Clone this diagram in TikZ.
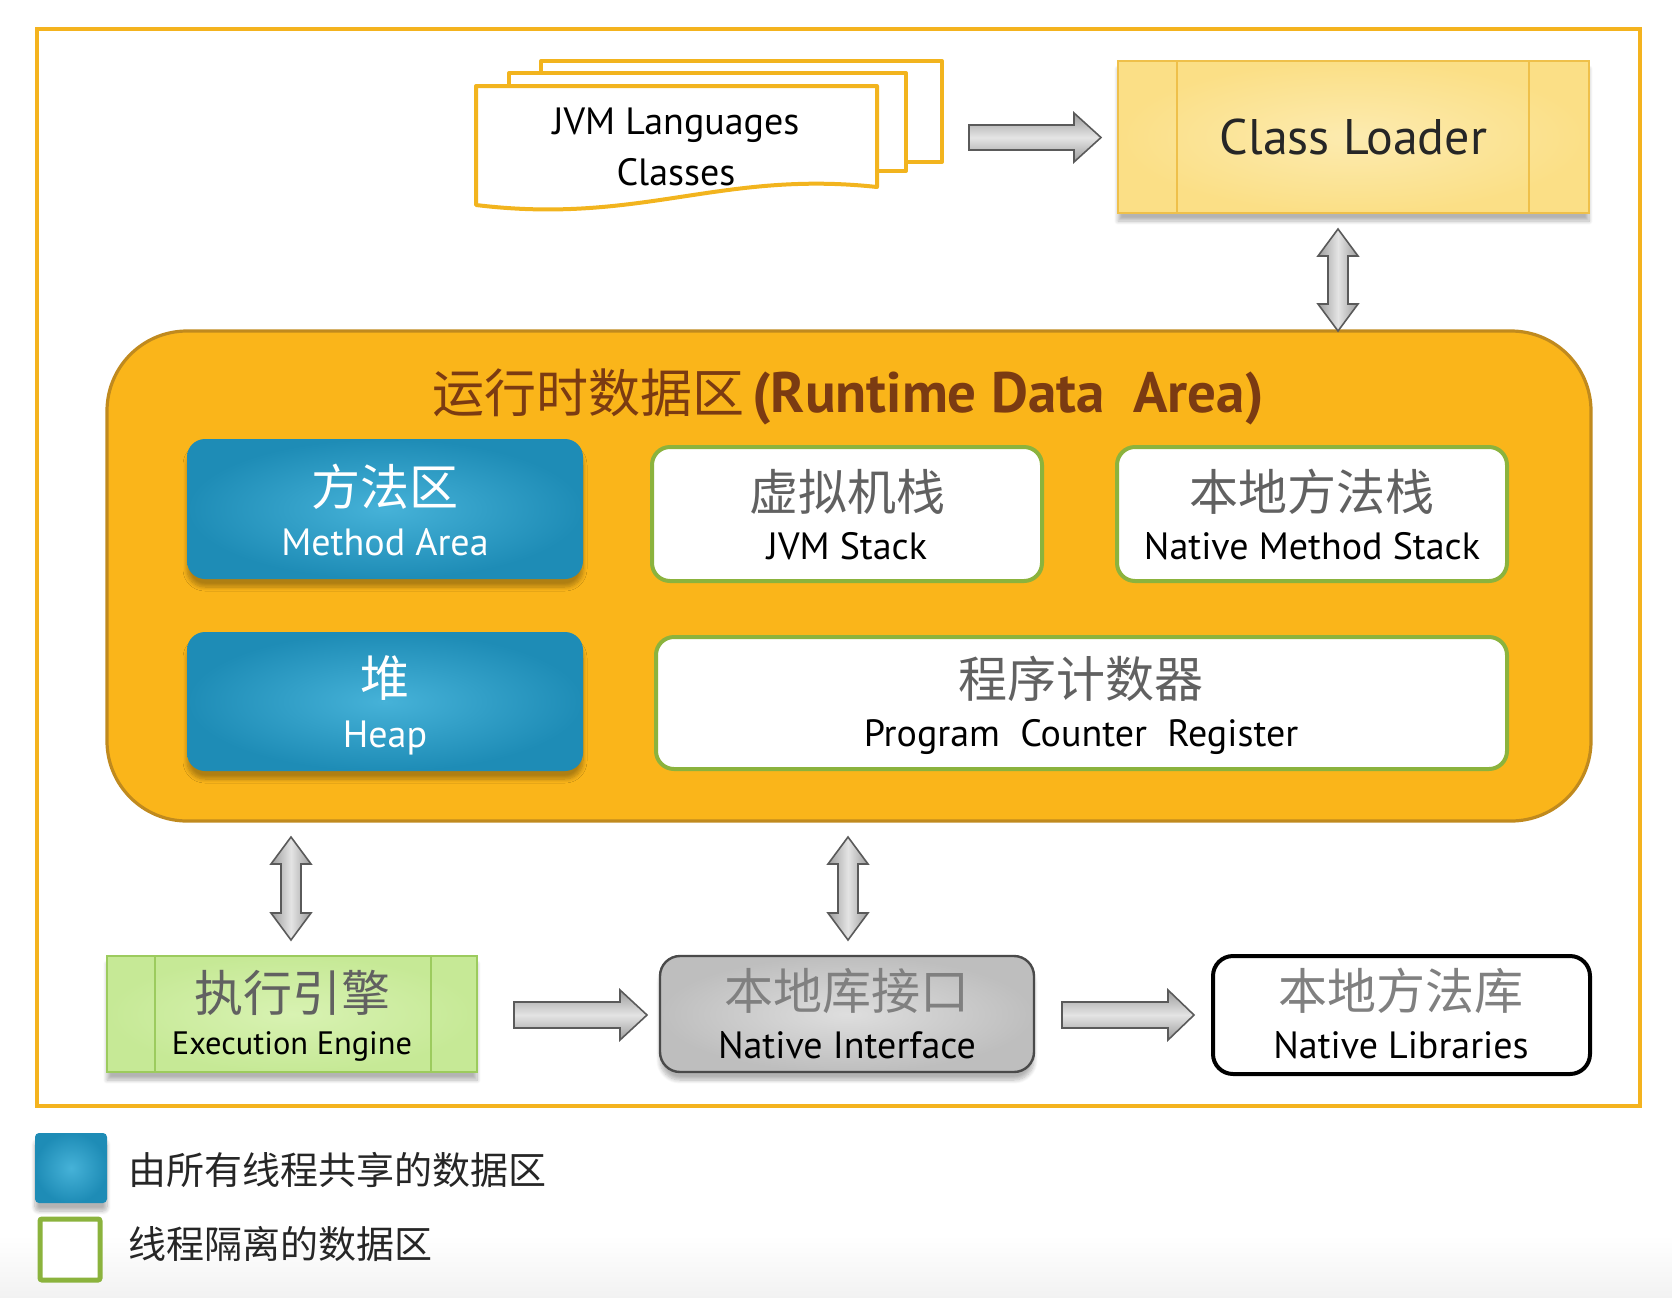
\documentclass[tikz,border=0pt]{standalone}
\usepackage{fontspec}
\setmainfont{PT Sans}
\newfontfamily\cjk{Noto Sans CJK SC}
\usetikzlibrary{shadows,shadows.blur,fit,calc}
\definecolor{frameor}{HTML}{F4B31E}
\definecolor{docor}{HTML}{F2B41E}
\definecolor{clfill}{HTML}{FBDF86}
\definecolor{clinner}{HTML}{FCEBB0}
\definecolor{clborder}{HTML}{EFC04A}
\definecolor{rdafill}{HTML}{FAB51A}
\definecolor{rdaborder}{HTML}{C08A1E}
\definecolor{titlebrown}{HTML}{7B3B12}
\definecolor{blueout}{HTML}{1E8CB6}
\definecolor{bluein}{HTML}{46B2D8}
\definecolor{greenb}{HTML}{8BB33D}
\definecolor{eefill}{HTML}{C6E996}
\definecolor{eeinner}{HTML}{D8F2B2}
\definecolor{eeborder}{HTML}{9CCB5E}
\definecolor{nifill}{HTML}{BEBEBE}
\definecolor{niinner}{HTML}{DEDEDE}
\definecolor{niborder}{HTML}{4A4A4A}
\definecolor{arrowedge}{HTML}{5A5A5A}
\definecolor{arrowdark}{HTML}{9C9C9C}
\definecolor{arrowlight}{HTML}{E4E4E4}
\begin{document}
\begin{tikzpicture}[x=0.5pt,y=-0.5pt,
  boxfit/.style={inner sep=0pt},
  softshadow/.style={blur shadow={shadow blur steps=8, shadow xshift=0pt, shadow yshift=-4pt, shadow opacity=30}},
  outerframe/.style={boxfit, draw=frameor, line width=2pt},
  docshape/.style={draw=docor, fill=white, line width=2pt, line join=round},
  clbox/.style={boxfit, draw=clborder, line width=1pt, inner color=clinner, outer color=clfill, softshadow},
  cllines/.style={draw=clborder, line width=0.8pt},
  rdabox/.style={boxfit, draw=rdaborder, line width=1.6pt, fill=rdafill, rounded corners=40pt},
  bluebox/.style={boxfit, inner color=bluein, outer color=blueout, rounded corners=9pt, softshadow},
  whitebox/.style={boxfit, draw=greenb, line width=2pt, fill=white, rounded corners=9pt},
  eebox/.style={boxfit, draw=eeborder, line width=1pt, inner color=eeinner, outer color=eefill, softshadow},
  nibox/.style={boxfit, draw=niborder, line width=1.2pt, inner color=niinner, outer color=nifill, rounded corners=10pt, softshadow},
  nlbox/.style={boxfit, draw=black, line width=2pt, fill=white, rounded corners=10pt},
  harrow/.style={draw=arrowedge, line width=0.8pt, line join=miter, top color=arrowdark, bottom color=arrowdark, middle color=arrowlight},
  varrow/.style={draw=arrowedge, line width=0.8pt, line join=miter, left color=arrowdark, right color=arrowdark, middle color=arrowlight},
  cntext/.style={inner sep=0pt, font=\cjk\fontsize{24.5}{28}\selectfont, text=black!62},
  entext/.style={inner sep=0pt, font=\fontsize{19}{22}\selectfont, text=black},
  legtext/.style={inner sep=0pt, anchor=west, font=\cjk\fontsize{19}{22}\selectfont, text=black!85}
]
\useasboundingbox (0,0) rectangle (1672,1297);
% faint bottom band of the screenshot
\path[top color=white, bottom color=gray!10] (0,1235) rectangle (1672,1297);

% outer frame
\node[outerframe, fit={(37,29)(1640,1106)}] (frame) {};

% JVM language classes (stacked documents)
\path[docshape] (541,61) rectangle (942,162);
\path[docshape] (509,73) rectangle (906,171);
\path[docshape] (476,86) -- (877,86) -- (877,187) .. controls (720,170) and (640,225) .. (476,205) -- cycle;
\node[entext, font=\fontsize{19}{22}\selectfont] (jvml) at (676,125) {JVM Languages};
\node[entext, font=\fontsize{19}{22}\selectfont] (jvmc) at (676,172) {Classes};

% Class Loader
\node[clbox, fit={(1118,61)(1589,213)}] (cl) {};
\draw[cllines] (1177,61) -- (1177,213);
\draw[cllines] (1529,61) -- (1529,213);
\node[inner sep=0pt, font=\fontsize{25}{28}\selectfont, text=black!85] (cltext) at (cl.center) {Class Loader};

% arrow classes -> class loader
\path[harrow] (969,125) -- (1074,125) -- (1074,113) -- (1101,137.5) -- (1074,162) -- (1074,150) -- (969,150) -- cycle;

% Runtime data area
\node[rdabox, fit={(107,331)(1591,821)}] (rda) {};
\node[inner sep=0pt, text=titlebrown] (title) at (848,397)
  {{\cjk\fontsize{26}{30}\selectfont 运行时数据区}\hspace{4pt}{\fontsize{28.5}{32}\selectfont\bfseries (Runtime Data\ \ Area)}};

% double arrow class loader <-> runtime area
\path[varrow] (1338,229) -- (1358,256) -- (1348,256) -- (1348,304) -- (1358,304) -- (1338,331) -- (1318,304) -- (1328,304) -- (1328,256) -- (1318,256) -- cycle;

% Method Area
\node[bluebox, fit={(187,439)(583,579)}] (ma) {};
\node[cntext, text=white] (macn) at (385,487) {方法区};
\node[entext, text=white] (maen) at (385,542) {Method Area};

% JVM Stack
\node[whitebox, fit={(652,447)(1042,581)}] (js) {};
\node[cntext] (jscn) at (847,492) {虚拟机栈};
\node[entext] (jsen) at (847,546) {JVM Stack};

% Native Method Stack
\node[whitebox, fit={(1117,447)(1507,581)}] (nms) {};
\node[cntext] (nmscn) at (1312,492) {本地方法栈};
\node[entext] (nmsen) at (1312,546) {Native Method Stack};

% Heap
\node[bluebox, fit={(187,632)(583,771)}] (heap) {};
\node[cntext, text=white] (heapcn) at (385,678) {堆};
\node[entext, text=white] (heapen) at (385,738) {Heap};

% Program Counter Register
\node[whitebox, fit={(656,637)(1507,769)}] (pcr) {};
\node[cntext] (pcrcn) at (1081,679) {程序计数器};
\node[entext] (pcren) at (1081,737) {Program\ \ Counter\ \ Register};

% vertical double arrows
\path[varrow] (291,837) -- (311,864) -- (301,864) -- (301,913) -- (311,913) -- (291,940) -- (271,913) -- (281,913) -- (281,864) -- (271,864) -- cycle;
\path[varrow] (848,837) -- (868,864) -- (858,864) -- (858,913) -- (868,913) -- (848,940) -- (828,913) -- (838,913) -- (838,864) -- (828,864) -- cycle;

% Execution Engine
\node[eebox, fit={(107,956)(477,1072)}] (ee) {};
\draw[draw=eeborder, line width=0.8pt] (155,956) -- (155,1072);
\draw[draw=eeborder, line width=0.8pt] (431,956) -- (431,1072);
\node[cntext] (eecn) at (292,993) {执行引擎};
\node[entext, font=\fontsize{16.2}{20}\selectfont] (eeen) at (292,1046) {Execution Engine};

% Native Interface
\node[nibox, fit={(660,956)(1034,1072)}] (ni) {};
\node[cntext, text=black!50] (nicn) at (847,991) {本地库接口};
\node[entext] (nien) at (847,1045) {Native Interface};

% Native Libraries
\node[nlbox, fit={(1213,956)(1590,1074)}] (nl) {};
\node[cntext, text=black!50] (nlcn) at (1401,991) {本地方法库};
\node[entext] (nlen) at (1401,1045) {Native Libraries};

% horizontal arrows
\path[harrow] (514,1002) -- (620,1002) -- (620,990) -- (647,1015) -- (620,1040) -- (620,1028) -- (514,1028) -- cycle;
\path[harrow] (1062,1002) -- (1168,1002) -- (1168,990) -- (1194,1015) -- (1168,1040) -- (1168,1028) -- (1062,1028) -- cycle;

% legend
\node[boxfit, inner color=bluein, outer color=blueout, rounded corners=2pt, softshadow, fit={(35,1133)(107,1203)}] (legblue) {};
\node[boxfit, draw=greenb, line width=2.5pt, fill=white, rounded corners=1pt, fit={(40,1219)(100,1280)}] (leggreen) {};
\node[legtext] (legt1) at (128,1170) {由所有线程共享的数据区};
\node[legtext] (legt2) at (128,1244) {线程隔离的数据区};
\end{tikzpicture}
\end{document}
